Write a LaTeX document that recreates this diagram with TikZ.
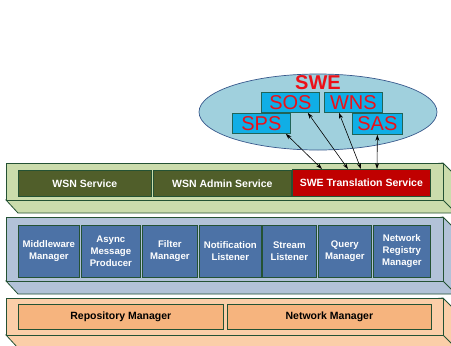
\documentclass[tikz,border=0pt]{standalone}
\usepackage{fontspec}
\setmainfont{Liberation Sans}
\usetikzlibrary{arrows.meta}

\definecolor{greenslab}{RGB}{203,220,172}
\definecolor{blueslab}{RGB}{178,194,216}
\definecolor{orangeslab}{RGB}{251,206,168}
\definecolor{slabline}{RGB}{36,82,52}
\definecolor{olivebox}{RGB}{80,94,42}
\definecolor{redbox}{RGB}{192,0,0}
\definecolor{bluebox}{RGB}{76,114,166}
\definecolor{orangebox}{RGB}{246,180,126}
\definecolor{swefill}{RGB}{160,208,221}
\definecolor{sweline}{RGB}{56,88,140}
\definecolor{cyanbox}{RGB}{16,174,230}
\definecolor{swered}{RGB}{236,16,24}

\begin{document}
\begin{tikzpicture}[x=1pt,y=-1pt,
    box/.style={draw=slabline, line width=0.7pt, inner sep=0pt, anchor=north west, align=center,
        font=\fontsize{9.6}{12}\selectfont\bfseries, text=white},
    widebox/.style={box, font=\fontsize{10.5}{12}\selectfont\bfseries},
    swebox/.style={draw=slabline!80!cyanbox, line width=0.8pt, fill=cyanbox, inner sep=0pt, anchor=north west,
        font=\fontsize{20}{20}\selectfont, text=swered},
    link/.style={{Stealth[length=6pt,width=4pt]}-{Stealth[length=6pt,width=4pt]}, line width=0.6pt}]
    \fill[white] (0,0) rectangle (451,346);
    \useasboundingbox (0,0) rectangle (451,346);

    % the three layers
    \foreach \top/\bot/\col in {163/200/greenslab, 217/281/blueslab, 298/335/orangeslab}{
        \filldraw[fill=\col, draw=slabline, line width=0.8pt] (6,\bot) -- (18,\bot+13) -- (456,\bot+13) -- (456,\top+13) -- (443,\top) -- cycle;
        \filldraw[fill=\col, draw=slabline, line width=0.8pt] (6,\top) rectangle (443,\bot);
        \draw[slabline, line width=0.8pt] (443,\bot) -- (456,\bot+13);
    }

    % top layer
    \node[widebox, fill=olivebox, minimum width=133, minimum height=26] (wsn) at (18,170) {WSN Service};
    \node[widebox, fill=olivebox, minimum width=138, minimum height=26] (admin) at (153,170) {WSN Admin Service};
    \node[widebox, fill=redbox, minimum width=138, minimum height=27] (trans) at (292,169) {SWE Translation Service};

    % middle layer
    \node[box, fill=bluebox, minimum width=61, minimum height=52] (mw) at (18,225) {Middleware\\Manager};
    \node[box, fill=bluebox, minimum width=59, minimum height=52] (async) at (81,225) {Async\\Message\\Producer};
    \node[box, fill=bluebox, minimum width=55, minimum height=52] (filter) at (142,225) {Filter\\Manager};
    \node[box, fill=bluebox, minimum width=62, minimum height=52] (notif) at (199,225) {Notification\\Listener};
    \node[box, fill=bluebox, minimum width=54, minimum height=52] (stream) at (262,225) {Stream\\Listener};
    \node[box, fill=bluebox, minimum width=53, minimum height=52] (query) at (318,225) {Query\\Manager};
    \node[box, fill=bluebox, minimum width=57, minimum height=52] (registry) at (373,225) {Network\\Registry\\Manager};

    % bottom layer
    \node[widebox, fill=orangebox, text=black, minimum width=205, minimum height=25] (repo) at (18,304) {Repository Manager};
    \node[widebox, fill=orangebox, text=black, minimum width=204, minimum height=25] (netman) at (227,304) {Network Manager};

    % SWE cloud
    \filldraw[fill=swefill, draw=sweline, line width=0.7pt] (318,112) ellipse [x radius=119, y radius=38];
    \node[font=\fontsize{20}{20}\selectfont\bfseries, text=swered, inner sep=0pt] (swe) at (318,83) {SWE};
    \node[swebox, minimum width=58, minimum height=20] (sos) at (261,92) {SOS};
    \node[swebox, minimum width=58, minimum height=20] (wns) at (324,92) {WNS};
    \node[swebox, minimum width=58, minimum height=20] (sps) at (232,113) {SPS};
    \node[swebox, minimum width=50, minimum height=21] (sas) at (352,113) {SAS};

    \draw[link] ([xshift=-5]sps.south east) -- ([xshift=30]trans.north west);
    \draw[link] ([xshift=-12]sos.south east) -- ([xshift=56]trans.north west);
    \draw[link] ([xshift=15]wns.south west) -- ([xshift=69]trans.north west);
    \draw[link] (sas.south) -- ([xshift=85]trans.north west);
\end{tikzpicture}
\end{document}
